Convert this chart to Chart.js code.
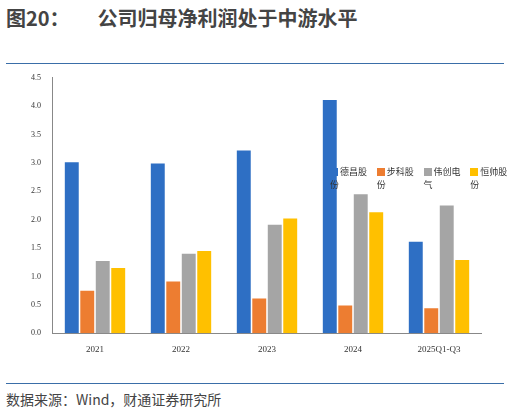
<!DOCTYPE html>
<html><head><meta charset="utf-8">
<script src="https://cdn.jsdelivr.net/npm/chart.js@4"></script>
<style>
body{margin:0;width:510px;height:413px;background:#fff;font-family:"Noto Sans CJK SC",sans-serif;position:relative;overflow:hidden}
#title{position:absolute;left:6px;top:3px;font-size:20px;font-weight:bold;color:#444}
#title span{margin-left:28px}
.line{position:absolute;left:6px;width:498px;height:1px;background:#3a6ea8}
#src{position:absolute;left:6px;top:389px;font-size:14px;color:#444}
#wrap{position:absolute;left:28px;top:70px;width:454px;height:288px}
#legend{position:absolute;left:330px;top:165px;font-size:9px;color:#333;display:flex;gap:7px}
#legend i{display:inline-block;width:8px;height:8px;margin-right:2px;vertical-align:-1px}
</style></head><body>
<div id="title">图20：<span>公司归母净利润处于中游水平</span></div>
<div class="line" style="top:63px"></div>
<div class="line" style="top:383px"></div>
<div id="src">数据来源：Wind，财通证券研究所</div>
<div id="wrap"><canvas id="c"></canvas></div>
<div id="legend"></div>
<script>
const categories = ["2021", "2022", "2023", "2024", "2025Q1-Q3"];
const seriesNames = ["德昌股份", "步科股份", "伟创电气", "恒帅股份"];
const dechang = [3.01, 2.99, 3.22, 4.11, 1.61];
const buke = [0.75, 0.91, 0.61, 0.49, 0.44];
const weichuang = [1.27, 1.40, 1.91, 2.45, 2.25];
const hengshuai = [1.15, 1.45, 2.02, 2.13, 1.29];
const yTicks = [0, 0.5, 1, 1.5, 2, 2.5, 3, 3.5, 4, 4.5];
const colors = ["#2e6fc4", "#ed7d31", "#a5a5a5", "#ffc000"];

const serif = "'Liberation Serif', serif";
const values = [dechang, buke, weichuang, hengshuai];
new Chart(document.getElementById("c"), {
  type: "bar",
  data: {
    labels: categories,
    datasets: values.map((d, i) => ({ label: seriesNames[i], data: d, backgroundColor: colors[i] }))
  },
  options: {
    responsive: true, maintainAspectRatio: false, animation: false,
    datasets: { bar: { categoryPercentage: 0.72, barPercentage: 0.9 } },
    plugins: { legend: { display: false }, tooltip: { enabled: false } },
    scales: {
      x: {
        grid: { display: false },
        border: { color: "#888" },
        ticks: { font: { family: serif, size: 9 }, color: "#333" }
      },
      y: {
        min: 0, max: 4.5,
        afterBuildTicks: (s) => { s.ticks = yTicks.map(v => ({ value: v })); },
        grid: { display: false },
        border: { color: "#888" },
        ticks: { font: { family: serif, size: 8 }, color: "#333", callback: v => v.toFixed(1) }
      }
    }
  }
});

const legend = document.getElementById("legend");
seriesNames.forEach((n, i) => {
  const s = document.createElement("span");
  s.innerHTML = `<i style="background:${colors[i]}"></i>${n}`;
  legend.appendChild(s);
});
</script>
</body></html>
